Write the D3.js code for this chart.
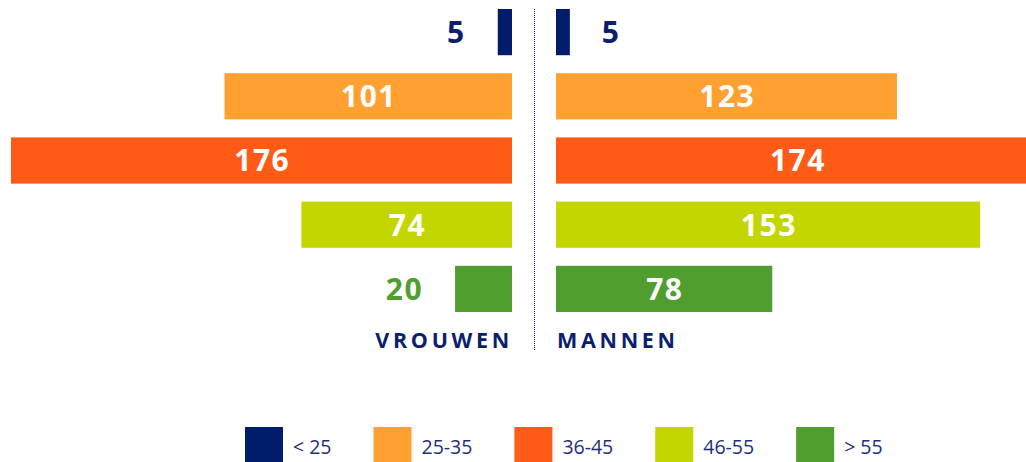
<!DOCTYPE html>
<html>
<head>
<meta charset="utf-8">
<script src="https://cdn.jsdelivr.net/npm/d3@7"></script>
<style>
  html, body { margin: 0; padding: 0; background: #fff; }
  svg { display: block; font-family: "Open Sans", "Noto Sans", sans-serif; }
</style>
</head>
<body>
<svg id="chart" width="1026" height="462"></svg>
<script>
// Age groups, top to bottom
const groups = ["< 25", "25-35", "36-45", "46-55", "> 55"];
const groupColors = ["#011c6b", "#ffa030", "#ff5a16", "#c4d600", "#509e2f"];
const women = [5, 101, 176, 74, 20];
const men = [5, 123, 174, 153, 78];
const sideLabels = ["VROUWEN", "MANNEN"];

const navy = "#0b1f6e";
const svg = d3.select("#chart");

// Vertical layout: one band per age group
const y = d3.scaleBand()
  .domain(groups)
  .range([0, 321])
  .paddingInner(0.28)
  .paddingOuter(0.14);

// Women grow leftwards from the centre gap, men rightwards
const xW = d3.scaleLinear().domain([0, 176]).range([512, 11]);
const xM = d3.scaleLinear().domain([0, 123]).range([556, 897]);

// half-pixel offset keeps the 1px divider crisp
const centre = (xW(0) + xM(0)) / 2 + 0.5;

// Dotted divider between the two halves
svg.append("line")
  .attr("x1", centre).attr("x2", centre)
  .attr("y1", y(groups[0])).attr("y2", 350)
  .attr("stroke", "#1a2a78")
  .attr("stroke-width", 1)
  .attr("stroke-dasharray", "1,1");

function drawSide(values, x, dir) {
  const rows = groups.map((g, i) => ({ g, v: values[i], c: groupColors[i] }));
  const gSide = svg.append("g");

  gSide.selectAll("rect")
    .data(rows)
    .join("rect")
    .attr("x", d => Math.min(x(0), x(d.v)))
    .attr("y", d => y(d.g))
    .attr("width", d => Math.abs(x(d.v) - x(0)))
    .attr("height", y.bandwidth())
    .attr("fill", d => d.c);

  gSide.selectAll("text")
    .data(rows)
    .join("text")
    .each(function (d) {
      const w = Math.abs(x(d.v) - x(0));
      const t = d3.select(this)
        .attr("y", y(d.g) + y.bandwidth() / 2)
        .attr("dy", "0.36em")
        .attr("font-size", 30)
        .attr("font-weight", 700)
        .attr("letter-spacing", 1.5)
        .text(d.v);
      if (w > 80) {
        t.attr("x", (x(0) + x(d.v)) / 2 + 0.75)
          .attr("text-anchor", "middle")
          .attr("fill", "#ffffff");
      } else {
        t.attr("x", x(d.v) + dir * 32)
          .attr("text-anchor", dir < 0 ? "end" : "start")
          .attr("fill", d.c === groupColors[0] ? navy : d.c);
      }
    });
}

drawSide(women, xW, -1);
drawSide(men, xM, 1);

// Side captions under the bars
svg.append("text")
  .attr("x", xW(0) + 1)
  .attr("y", 348)
  .attr("text-anchor", "end")
  .attr("font-size", 21.5)
  .attr("font-weight", 700)
  .attr("letter-spacing", 3.7)
  .attr("fill", navy)
  .text(sideLabels[0]);

svg.append("text")
  .attr("x", xM(0) + 1)
  .attr("y", 348)
  .attr("font-size", 21.5)
  .attr("font-weight", 700)
  .attr("letter-spacing", 3.7)
  .attr("fill", navy)
  .text(sideLabels[1]);

// Legend along the bottom
const legend = svg.append("g").attr("transform", "translate(245,427)");
let lx = 0;
groups.forEach((g, i) => {
  const item = legend.append("g").attr("transform", `translate(${lx},0)`);
  item.append("rect")
    .attr("width", 38).attr("height", 36)
    .attr("fill", groupColors[i]);
  const t = item.append("text")
    .attr("x", 48)
    .attr("y", 27)
    .attr("font-size", 19.5)
    .attr("fill", "#1f2f7c")
    .text(g);
  lx += 48 + t.node().getComputedTextLength() + 42;
});
</script>
</body>
</html>
